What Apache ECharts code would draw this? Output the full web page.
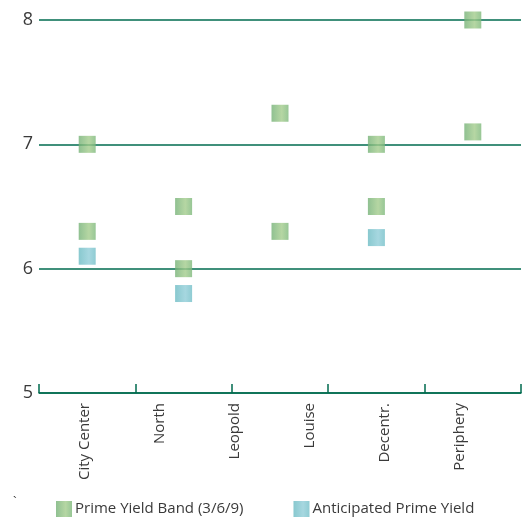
<!DOCTYPE html>
<html>
<head>
<meta charset="utf-8">
<script src="https://cdn.jsdelivr.net/npm/echarts@6/dist/echarts.min.js"></script>
<style>
  html, body { margin: 0; padding: 0; background: #fff; }
  #chart { width: 527px; height: 521px; }
</style>
</head>
<body>
<div id="chart"></div>
<script>
// category labels under the axis
const categories = ['City Center', 'North', 'Leopold', 'Louise', 'Decentr.', 'Periphery'];
// slots where markers are plotted (5 columns between the axis ticks)
const slots = ['City Center', 'North', 'Louise', 'Decentr.', 'Periphery'];
const bandHigh = [7.0, 6.5, 7.25, 7.0, 8.0];
const bandLow = [6.3, 6.0, 6.3, 6.5, 7.1];
const anticipated = [6.1, 5.8, null, 6.25, null];
const yTicks = [5, 6, 7, 8];

const green = '#006b4f';
const txt = '#3a3a3a';
const font = 'Open Sans';

const greenFill = new echarts.graphic.LinearGradient(0, 0, 1, 0, [
  { offset: 0, color: '#74b176' },
  { offset: 0.6, color: '#a3cc8c' },
  { offset: 1, color: '#7db87b' }
]);
const blueFill = new echarts.graphic.LinearGradient(0, 0, 1, 0, [
  { offset: 0, color: '#6bbbc3' },
  { offset: 0.6, color: '#90cdd8' },
  { offset: 1, color: '#73bfc8' }
]);

const chart = echarts.init(document.getElementById('chart'));
const option = {
  animation: false,
  textStyle: { fontFamily: font },
  grid: [
    { left: 39, right: 6, top: 20, bottom: 128 },
    { left: 47.5, width: 450, top: 20, bottom: 128 }
  ],
  legend: {
    left: 51,
    top: 496,
    itemWidth: 16,
    itemHeight: 16,
    itemGap: 50,
    textStyle: { fontSize: 15, color: txt, fontFamily: font, padding: [0, 0, 0, -2] },
    data: [
      { name: 'Prime Yield Band (3/6/9)', icon: 'rect', itemStyle: { color: greenFill } },
      { name: 'Anticipated Prime Yield', icon: 'rect', itemStyle: { color: blueFill } }
    ]
  },
  graphic: [
    { type: 'text', left: 13, top: 496, style: { text: '`', fontSize: 13, fill: txt, fontFamily: font } }
  ],
  xAxis: [
    {
      type: 'category',
      gridIndex: 0,
      data: slots,
      boundaryGap: true,
      z: 5,
      axisLine: { show: true, lineStyle: { color: green, width: 1.5 } },
      axisTick: { show: true, interval: 0, inside: true, length: 9, lineStyle: { color: green, width: 1.5 } },
      axisLabel: { show: false }
    },
    {
      type: 'category',
      gridIndex: 1,
      data: categories,
      axisLine: { show: false },
      axisTick: { show: false },
      axisLabel: { rotate: 90, margin: 10, fontSize: 15, color: txt, fontFamily: font }
    }
  ],
  yAxis: [
    {
      type: 'value',
      gridIndex: 0,
      min: yTicks[0],
      max: yTicks[yTicks.length - 1],
      interval: 1,
      axisLine: { show: false },
      axisTick: { show: false },
      splitLine: { lineStyle: { color: green, width: 1.5 } },
      axisLabel: { margin: 6, fontSize: 18, color: txt, fontFamily: font }
    },
    {
      type: 'value',
      gridIndex: 1,
      min: 5, max: 8,
      show: false
    }
  ],
  series: [
    {
      name: 'Prime Yield Band (3/6/9)',
      type: 'scatter',
      symbol: 'rect',
      symbolSize: 17,
      itemStyle: { color: greenFill },
      data: bandHigh
    },
    {
      name: 'Prime Yield Band (3/6/9)',
      type: 'scatter',
      symbol: 'rect',
      symbolSize: 17,
      itemStyle: { color: greenFill },
      data: bandLow
    },
    {
      name: 'Anticipated Prime Yield',
      type: 'scatter',
      symbol: 'rect',
      symbolSize: 17,
      itemStyle: { color: blueFill },
      data: anticipated
    }
  ]
};
chart.setOption(option);
</script>
</body>
</html>
